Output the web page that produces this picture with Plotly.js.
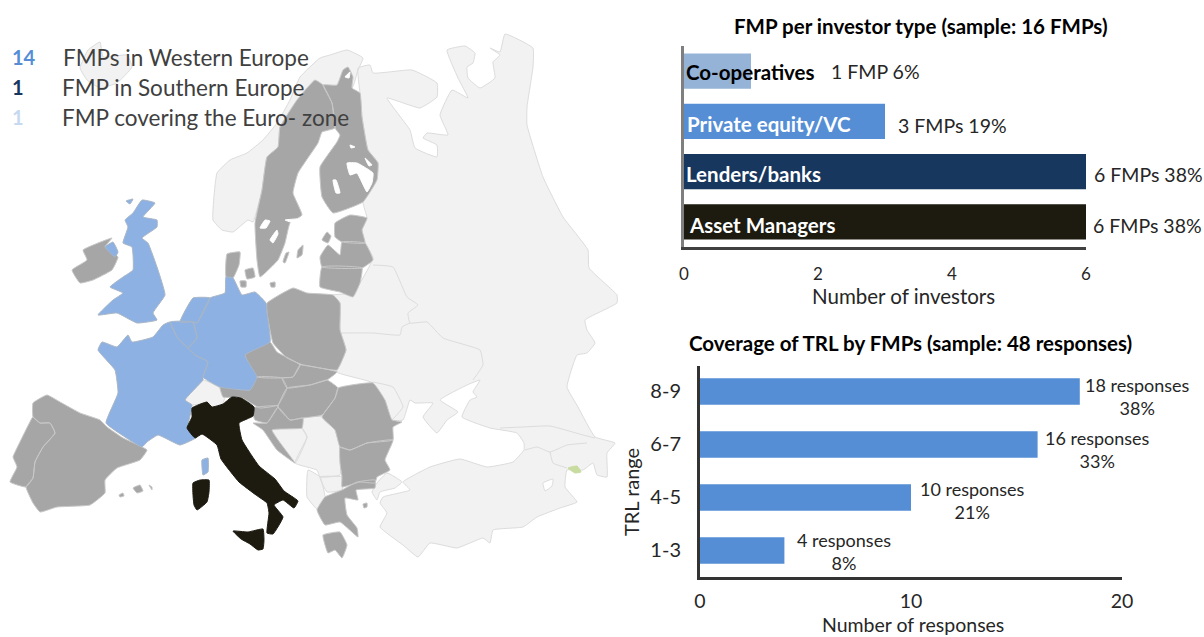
<!DOCTYPE html>
<html><head><meta charset="utf-8">
<script src="https://cdn.plot.ly/plotly-3.0.1.min.js"></script>
<style>html,body{margin:0;padding:0;background:#fff}#c{width:1204px;height:637px}</style></head>
<body><div id="c"></div>
<script>
// ---------- chart data ----------
const investorTypes = ["Asset Managers","Lenders/banks","Private equity/VC","Co-operatives"];
const investorCounts = [6,6,3,1];
const investorColors = ["#1d1b10","#17375e","#558ed5","#95b3d7"];
const investorNameColors = ["#ffffff","#ffffff","#ffffff","#000000"];
const investorLabels = ["6 FMPs 38%","6 FMPs 38%","3 FMPs 19%","1 FMP 6%"];
const trlRanges = ["1-3","4-5","6-7","8-9"];
const trlCounts = [4,10,16,18];
const trlLabels = ["4 responses<br>8%","10 responses<br>21%","16 responses<br>33%","18 responses<br>38%"];
const legendCounts = ["14","1","1"];
const legendTexts = ["FMPs in Western Europe","FMP in Southern Europe","FMP covering the Euro- zone"];
const legendColors = ["#558ed5","#17375e","#c6d9f1"];

// ---------- map outlines ----------
const iceland=[[80,68],[88,50],[100,42],[103,57],[127,55],[132,67],[117,83],[100,88],[87,80]];
const norway=[[213,220],[217,173],[230,160],[247,153],[263,140],[277,123],[290,100],[300,77],[320,58],[330,55],[347,50],[363,58],[358,70],[352,88],[315,90],[280,127],[278,147],[267,157],[262,190],[253,222],[248,220],[233,232],[222,230]];
const russia=[[358,68],[370,65],[373,73],[412,70],[437,83],[437,97],[420,108],[387,98],[410,130],[415,148],[437,157],[437,145],[423,138],[427,133],[448,135],[440,115],[452,90],[468,98],[458,78],[447,50],[465,46],[475,53],[473,63],[467,67],[468,78],[480,88],[495,78],[493,62],[500,55],[490,48],[500,52],[505,34],[533,48],[533,67],[527,107],[527,125],[543,177],[563,217],[588,250],[589,268],[617,295],[617,303],[585,320],[587,330],[595,343],[587,353],[577,355],[567,387],[578,407],[595,437],[615,443],[607,453],[607,477],[597,475],[593,463],[583,470],[567,470],[565,487],[577,502],[560,508],[537,517],[523,527],[493,530],[490,543],[483,538],[457,548],[430,543],[418,557],[403,545],[380,527],[387,513],[380,503],[383,497],[410,490],[403,482],[430,467],[460,459],[487,467],[513,462],[524,450],[524,443],[517,433],[490,428],[462,417],[470,400],[477,397],[473,392],[480,380],[467,385],[440,400],[458,412],[447,420],[437,433],[423,417],[433,403],[415,403],[410,400],[403,420],[392,420],[373,383],[337,372],[346,350],[340,330],[340,303],[333,295],[353,293],[373,258],[365,243],[362,230],[367,218],[363,202],[378,163],[368,150],[362,117],[360,93]];
const thrace=[[377,483],[387,473],[402,482],[395,488],[380,492],[377,500],[372,492]];
const switzerland=[[203,380],[220,388],[225,397],[222,405],[212,408],[207,403],[193,405],[185,400]];
const bosnia=[[272,430],[302,428],[307,437],[295,463]];
const serbia=[[302,417],[323,417],[335,430],[340,447],[340,475],[320,477],[317,470],[295,463],[307,437],[302,428]];
const albania=[[308,470],[320,477],[325,497],[318,510],[307,497]];
const macedonia=[[320,477],[342,477],[342,490],[327,492]];

const sweden=[[315,80],[323,85],[332,103],[335,128],[322,132],[318,143],[298,173],[293,193],[302,215],[290,223],[285,243],[278,260],[260,277],[257,260],[255,223],[262,190],[267,157],[278,147],[280,127],[297,100]];
const finland=[[323,85],[337,85],[343,70],[348,67],[353,77],[352,88],[360,93],[362,117],[368,150],[378,163],[377,180],[363,202],[333,213],[322,197],[320,167],[337,142],[340,135],[335,128],[332,103]];
const estonia=[[335,223],[350,215],[367,218],[362,230],[365,243],[342,242],[335,237]];
const saaremaa=[[322,240],[327,232],[331,236],[328,243]];
const latvia=[[320,257],[328,245],[340,255],[342,242],[365,243],[373,260],[362,268],[322,267]];
const lithuania=[[322,267],[362,268],[360,283],[353,297],[340,292],[320,287]];
const denmark=[[227,254],[240,252],[239,265],[233,278],[226,277]];
const zealand=[[245,270],[253,268],[255,277],[247,279]];
const funen=[[240,281],[246,281],[246,287],[241,287]];
const bornholm=[[270,283],[275,282],[275,287],[271,287]];
const gotland=[[298,250],[303,245],[302,255],[297,258]];
const oland=[[286,253],[289,252],[285,263],[283,262]];
const ireland=[[83,250],[98,243],[112,238],[105,247],[118,257],[112,270],[93,280],[80,283],[72,270],[87,260]];
const poland=[[267,303],[293,288],[307,293],[333,295],[340,303],[340,330],[346,350],[337,370],[320,368],[303,365],[287,358],[273,343],[270,330],[267,313]];
const czechia=[[245,355],[270,342],[277,352],[300,365],[293,377],[282,378],[257,377]];
const slovakia=[[300,365],[320,368],[337,372],[327,380],[310,385],[287,388],[282,378],[293,377]];
const austria=[[220,387],[250,390],[257,377],[282,378],[287,388],[278,405],[260,408],[242,398],[223,397]];
const hungary=[[287,388],[310,385],[327,380],[338,388],[335,398],[322,415],[303,418],[290,420],[278,407]];
const slovenia=[[252,408],[278,406],[273,415],[267,423],[255,420]];
const croatia=[[267,423],[278,407],[290,420],[303,418],[302,428],[272,430],[295,463],[277,450],[263,430],[253,423]];
const romania=[[322,417],[335,398],[338,388],[373,383],[385,400],[392,420],[402,422],[393,427],[393,440],[367,443],[350,450],[340,447],[335,430]];
const bulgaria=[[340,447],[350,450],[367,443],[393,440],[385,460],[390,470],[377,477],[375,483],[360,482],[342,487],[342,477],[340,463]];
const greece=[[325,497],[342,490],[357,482],[375,480],[375,488],[356,490],[358,500],[345,498],[347,515],[357,528],[358,537],[340,522],[325,525],[317,510]];
const peloponnese=[[323,535],[340,532],[347,545],[342,558],[335,550],[328,553]];
const lesbos=[[363,504],[367,503],[367,507],[364,508]];
const spain=[[33,417],[33,403],[47,395],[60,402],[80,413],[100,420],[107,427],[123,438],[147,450],[140,460],[117,468],[105,480],[105,493],[90,505],[57,507],[40,512],[33,503],[26,487],[33,478],[35,462],[43,447],[55,433],[50,423],[40,423]];
const portugal=[[33,417],[40,423],[50,423],[55,433],[43,447],[35,462],[33,478],[26,487],[10,482],[17,467],[13,457],[17,448],[32,418]];
const mallorca=[[133,488],[140,485],[143,491],[137,493]];
const ibiza=[[119,495],[123,493],[124,496],[120,497]];
const menorca=[[149,485],[152,487],[152,490]];
const luxembourg=[[190,345],[196,344],[197,351],[192,353]];

const uk=[[142,200],[155,203],[143,217],[157,220],[157,227],[142,238],[148,243],[158,270],[165,295],[153,313],[157,320],[137,323],[117,313],[98,315],[113,300],[123,293],[110,287],[123,277],[133,270],[132,247],[123,243],[128,227],[125,220],[133,213]];
const hebrides=[[126,201],[133,199],[130,204]];
const nireland=[[105,247],[113,242],[118,252],[115,257]];
const france=[[163,325],[170,322],[177,337],[188,348],[195,355],[208,362],[203,377],[203,380],[185,400],[192,405],[188,427],[197,437],[180,445],[158,435],[147,442],[142,447],[125,437],[106,423],[118,393],[115,370],[98,350],[102,342],[117,347],[128,335],[132,342],[153,337]];
const germany=[[226,277],[233,278],[242,295],[255,292],[266,303],[267,313],[270,342],[245,355],[257,377],[250,390],[220,387],[203,377],[208,362],[195,355],[188,348],[197,338],[193,322],[197,323],[210,298],[225,293]];
const netherlands=[[210,298],[197,323],[193,322],[180,322],[193,298]];
const belgium=[[170,322],[193,322],[197,338],[188,348],[177,337]];
const corsica=[[208,458],[208,472],[203,475],[202,460]];

const italy=[[192,408],[207,402],[212,407],[223,404],[232,397],[241,398],[254,407],[253,416],[239,423],[242,440],[259,466],[275,479],[284,491],[298,501],[294,508],[283,500],[274,505],[283,517],[273,534],[267,533],[269,513],[267,503],[256,495],[239,482],[221,459],[217,445],[202,434],[195,438],[187,428],[192,417]];
const sicily=[[233,531],[248,532],[263,529],[264,540],[263,549],[258,550],[250,544],[241,539]];
const sardinia=[[193,483],[200,480],[209,480],[209,492],[207,502],[197,510],[194,505],[193,495]];

const nakhchivan=[[568,468],[577,466],[581,472],[575,473]];
const lakes=[
 [[260,228],[265,220],[270,221],[266,228]],
 [[270,240],[277,230],[278,234],[273,243]],
 [[285,220],[298,219],[294,223]],
 [[347,163],[357,163],[373,173],[372,183],[367,192],[357,173],[350,175]],
 [[333,180],[336,180],[340,193],[336,193]],
 [[365,158],[372,165],[369,166]],
 [[350,145],[355,147],[351,148]],
 [[345,77],[350,72],[349,78]]
];
const vanLake=[[543,483],[553,479],[552,486],[545,491]];
// inner frontiers inside the light region
const borderLines=[
 [[373,265],[393,267],[407,297],[418,305],[408,313],[410,323],[427,322],[443,338],[480,350],[483,365],[473,380]],
 [[340,333],[373,333],[400,335],[402,327],[410,323]],
 [[373,382],[393,387],[403,407],[392,420]],
 [[500,428],[523,427],[550,426],[583,435],[595,438]],
 [[525,450],[537,447],[550,452],[567,445],[587,443]],
 [[550,452],[553,463],[567,468]]
];

const lightGroup=[iceland,norway,russia,thrace,switzerland,bosnia,serbia,albania,macedonia];
const grayGroup=[sweden,finland,estonia,saaremaa,latvia,lithuania,denmark,zealand,funen,bornholm,gotland,oland,ireland,poland,czechia,slovakia,austria,hungary,slovenia,croatia,romania,bulgaria,greece,peloponnese,lesbos,spain,portugal,mallorca,ibiza,menorca,luxembourg];
const blueGroup=[uk,hebrides,nireland,france,germany,netherlands,belgium,corsica];
const blackGroup=[italy,sicily,sardinia];

function polys(list,fill,line,close){
  const x=[],y=[];
  list.forEach(p=>{p.forEach(q=>{x.push(q[0]);y.push(q[1]);}); if(close){x.push(p[0][0]);y.push(p[0][1]);} x.push(null);y.push(null);});
  return {type:'scatter',mode:'lines',x,y,xaxis:'x3',yaxis:'y3',fill:close?'toself':'none',fillcolor:fill,line:{color:line,width:1,shape:'spline',smoothing:0.35},hoverinfo:'skip',showlegend:false};
}
const FONT='Lato, Carlito, sans-serif';
const traces=[
 polys(lightGroup,'#f2f2f2','#dcdcdc',true),
 polys(borderLines,'rgba(0,0,0,0)','#dcdcdc',false),
 polys([vanLake],'#ffffff','#dcdcdc',true),
 polys([nakhchivan],'#c9dca0','#c9dca0',true),
 polys(grayGroup,'#a6a6a6','#c8c8c8',true),
 polys(blueGroup,'#8db1e2','#a9b6c6',true),
 polys(blackGroup,'#1d1b10','#1d1b10',true),
 polys(lakes,'#ffffff','#ffffff',true),
 {type:'bar',orientation:'h',x:investorCounts,y:investorTypes,xaxis:'x',yaxis:'y',width:0.7,marker:{color:investorColors},hoverinfo:'skip',showlegend:false},
 {type:'bar',orientation:'h',x:trlCounts,y:trlRanges,xaxis:'x2',yaxis:'y2',width:0.5,marker:{color:'#558ed5'},hoverinfo:'skip',showlegend:false}
];
// pixel helpers for the layout only
const W=1204,H=637;
const dx=(a,b)=>[a/W,b/W], dy=(top,bot)=>[1-bot/H,1-top/H];
const txt='#262626';
const ann=[];
function pixText(x,y,text,size,opt){ann.push(Object.assign({xref:'x3',yref:'y3',x,y,text,showarrow:false,xanchor:'left',yanchor:'middle',font:{family:FONT,size,color:txt}},opt||{}));}
const legY=[57,87,117], legX=[61,60,60];
legendCounts.forEach((t,i)=>{
  pixText(10,legY[i],'<b>'+t+'</b>',20,{font:{family:FONT,size:20,color:legendColors[i]}});
  pixText(legX[i],legY[i],legendTexts[i],22.5,{font:{family:FONT,size:22.5,color:'#404040'}});
});
pixText(921,26,'<b>FMP per investor type (sample: 16 FMPs)</b>',20.5,{xanchor:'center',font:{family:FONT,size:20.5,color:'#000'}});
pixText(910,343,'<b>Coverage of TRL by FMPs (sample: 48 responses)</b>',20.5,{xanchor:'center',font:{family:FONT,size:20.5,color:'#000'}});
pixText(903,296,'Number of investors',20.5,{xanchor:'center'});
pixText(913,624.5,'Number of responses',19.5,{xanchor:'center'});
pixText(631,492,'TRL range',20,{xanchor:'center',textangle:-90});

const nameLeft=[3,0,1,0], nameY=[-3,-2,-3,-1], valShift=[5,6,11,78], valY=[-4,-3,-4,0];
investorTypes.forEach((t,i)=>{
  ann.push({xref:'x',yref:'y',x:0,y:t,xanchor:'left',yanchor:'middle',xshift:nameLeft[i],yshift:nameY[i],showarrow:false,text:'<b>'+t+'</b>',font:{family:FONT,size:20.5,color:investorNameColors[i]}});
  ann.push({xref:'x',yref:'y',x:investorCounts[i],y:t,xanchor:'left',yanchor:'middle',xshift:valShift[i],yshift:valY[i],showarrow:false,text:investorLabels[i],font:{family:FONT,size:19.5,color:txt}});
});
const trlShift=[60,61,60,58], trlY=[-1,-3,-5,-5];
trlRanges.forEach((t,i)=>{
  ann.push({xref:'x2',yref:'y2',x:trlCounts[i],y:t,xanchor:'center',yanchor:'middle',xshift:trlShift[i],yshift:trlY[i],showarrow:false,align:'center',text:trlLabels[i],font:{family:FONT,size:18,color:txt}});
});
const layout={
 width:W,height:H,margin:{l:0,r:0,t:0,b:0},paper_bgcolor:'#fff',plot_bgcolor:'rgba(0,0,0,0)',showlegend:false,
 font:{family:FONT,color:txt},
 xaxis3:{domain:[0,1],range:[0,W],visible:false,fixedrange:true,anchor:'y3'},
 yaxis3:{domain:[0,1],range:[H,0],visible:false,fixedrange:true,anchor:'x3'},
 xaxis:{domain:dx(684,1086),range:[0,6],anchor:'y',tickvals:[0,2,4,6],ticks:'outside',ticklen:10,tickcolor:'rgba(0,0,0,0)',showgrid:false,zeroline:false,showline:true,linecolor:'#404040',linewidth:3,tickfont:{family:FONT,size:17,color:txt}},
 yaxis:{domain:dy(46,247),type:'category',categoryorder:'array',categoryarray:investorTypes,range:[-0.5,3.5],anchor:'x',showticklabels:false,ticks:'',showgrid:false,zeroline:false,showline:true,linecolor:'#7f7f7f',linewidth:3},
 xaxis2:{domain:dx(700,1122),range:[0,20],anchor:'y2',tickvals:[0,10,20],ticks:'outside',ticklen:5,tickcolor:'rgba(0,0,0,0)',showgrid:false,zeroline:false,showline:true,linecolor:'#333333',linewidth:3,tickfont:{family:FONT,size:19.5,color:txt}},
 yaxis2:{domain:dy(366,577),type:'category',categoryorder:'array',categoryarray:trlRanges,range:[-0.5,3.48],anchor:'x2',ticks:'outside',ticklen:12,tickcolor:'rgba(0,0,0,0)',showgrid:false,zeroline:false,showline:true,linecolor:'#333333',linewidth:3,tickfont:{family:FONT,size:20,color:txt}},
 annotations:ann
};
Plotly.newPlot('c',traces,layout,{displayModeBar:false,staticPlot:true});
</script></body></html>
